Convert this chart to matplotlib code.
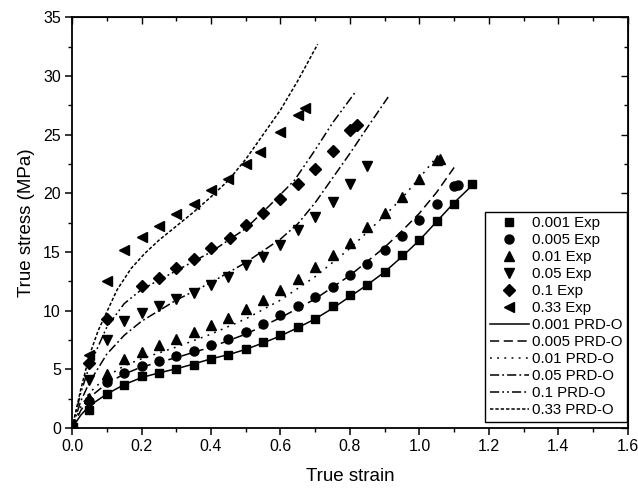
import matplotlib
matplotlib.use('Agg')
import matplotlib.pyplot as plt
from matplotlib.ticker import MultipleLocator

plt.rcParams['font.family'] = ['Liberation Sans', 'DejaVu Sans']

# experimental points (true strain, true stress in MPa)
eps_e001 = [0, 0.05, 0.1, 0.15, 0.2, 0.25, 0.3, 0.35, 0.4, 0.45, 0.5, 0.55, 0.6,
            0.65, 0.7, 0.75, 0.8, 0.85, 0.9, 0.95, 1.0, 1.05, 1.1, 1.15]
sig_e001 = [0, 1.5, 2.9, 3.7, 4.4, 4.7, 5.0, 5.4, 5.9, 6.2, 6.7, 7.3, 7.9,
            8.6, 9.3, 10.4, 11.3, 12.2, 13.3, 14.7, 16.0, 17.6, 19.1, 20.8]

eps_e005 = [0, 0.05, 0.1, 0.15, 0.2, 0.25, 0.3, 0.35, 0.4, 0.45, 0.5, 0.55, 0.6,
            0.65, 0.7, 0.75, 0.8, 0.85, 0.9, 0.95, 1.0, 1.05, 1.1, 1.11]
sig_e005 = [0, 2.3, 3.9, 4.7, 5.3, 5.7, 6.1, 6.6, 7.1, 7.6, 8.2, 8.9, 9.6,
            10.4, 11.2, 12.0, 13.0, 14.0, 15.2, 16.4, 17.7, 19.1, 20.6, 20.7]

eps_e01 = [0, 0.05, 0.1, 0.15, 0.2, 0.25, 0.3, 0.35, 0.4, 0.45, 0.5, 0.55, 0.6,
           0.65, 0.7, 0.75, 0.8, 0.85, 0.9, 0.95, 1.0, 1.05, 1.06]
sig_e01 = [0, 2.6, 4.6, 5.9, 6.5, 7.1, 7.6, 8.2, 8.8, 9.4, 10.1, 10.9, 11.8,
           12.7, 13.7, 14.7, 15.8, 17.1, 18.3, 19.7, 21.2, 22.8, 22.9]

eps_e05 = [0, 0.05, 0.1, 0.15, 0.2, 0.25, 0.3, 0.35, 0.4, 0.45, 0.5, 0.55, 0.6,
           0.65, 0.7, 0.75, 0.8, 0.85]
sig_e05 = [0, 4.1, 7.5, 9.1, 9.8, 10.4, 11.0, 11.5, 12.2, 12.9, 13.9, 14.6, 15.6,
           16.9, 18.0, 19.3, 20.8, 22.3]

eps_e1 = [0, 0.05, 0.1, 0.2, 0.25, 0.3, 0.35, 0.4, 0.455, 0.5, 0.55, 0.6,
          0.65, 0.7, 0.75, 0.8, 0.82]
sig_e1 = [0, 5.5, 9.3, 12.1, 12.8, 13.6, 14.4, 15.3, 16.2, 17.3, 18.3, 19.5,
          20.8, 22.1, 23.6, 25.4, 25.8]

eps_e33 = [0, 0.05, 0.1, 0.15, 0.2, 0.25, 0.3, 0.35, 0.4, 0.45, 0.5, 0.54,
           0.6, 0.65, 0.67]
sig_e33 = [0, 6.2, 12.5, 15.2, 16.3, 17.2, 18.2, 19.1, 20.3, 21.2, 22.5, 23.5,
           25.2, 26.7, 27.3]

# PRD-O model curves
eps_m001 = [0, 0.025, 0.05, 0.1, 0.15, 0.2, 0.25, 0.3, 0.35, 0.4, 0.45, 0.5, 0.55,
            0.6, 0.65, 0.7, 0.75, 0.8, 0.85, 0.9, 0.95, 1.0, 1.05, 1.1, 1.16]
sig_m001 = [0, 1.1, 1.9, 2.9, 3.7, 4.3, 4.7, 5.05, 5.45, 5.9, 6.25, 6.7, 7.25,
            7.85, 8.55, 9.3, 10.2, 11.2, 12.2, 13.3, 14.6, 16.0, 17.6, 19.2, 20.9]

eps_m005 = [0, 0.025, 0.05, 0.1, 0.15, 0.2, 0.3, 0.4, 0.5, 0.6, 0.7, 0.8, 0.9,
            0.95, 1.0, 1.05, 1.1]
sig_m005 = [0, 1.5, 2.6, 3.8, 4.6, 5.2, 6.0, 6.9, 8.0, 9.4, 11.0, 13.0, 15.4,
            16.8, 18.3, 20.1, 22.2]

eps_m01 = [0, 0.025, 0.05, 0.1, 0.15, 0.2, 0.3, 0.4, 0.5, 0.6, 0.7, 0.8, 0.9,
           0.95, 1.0, 1.05]
sig_m01 = [0, 1.8, 3.0, 4.4, 5.3, 5.9, 6.9, 8.0, 9.3, 10.9, 12.9, 15.3, 18.1,
           19.6, 21.3, 23.1]

eps_m05 = [0, 0.025, 0.05, 0.1, 0.15, 0.2, 0.3, 0.4, 0.5, 0.6, 0.65, 0.7, 0.75,
           0.8, 0.85, 0.91]
sig_m05 = [0, 2.3, 3.9, 6.3, 7.9, 9.1, 10.9, 12.4, 14.1, 16.1, 17.4, 19.2, 21.3,
           23.4, 25.6, 28.2]

eps_m1 = [0, 0.025, 0.05, 0.1, 0.15, 0.2, 0.25, 0.3, 0.4, 0.5, 0.57, 0.64, 0.7,
          0.75, 0.815]
sig_m1 = [0, 3.0, 5.3, 8.6, 10.6, 11.8, 12.6, 13.4, 15.0, 17.0, 19.0, 21.1, 23.7,
          26.0, 28.6]

eps_m33 = [0, 0.025, 0.05, 0.075, 0.1, 0.13, 0.17, 0.21, 0.25, 0.3, 0.35, 0.4,
           0.45, 0.5, 0.55, 0.6, 0.65, 0.707]
sig_m33 = [0, 3.3, 6.2, 8.3, 9.9, 11.8, 13.6, 14.9, 16.0, 17.2, 18.4, 19.7,
           21.1, 22.9, 25.0, 27.1, 29.6, 32.7]

fig = plt.figure(figsize=(6.38, 4.92), dpi=100)
ax = fig.add_axes([0.113, 0.13, 0.871, 0.835])

exp_sets = [
    (eps_e001, sig_e001, 's', 6.0, '0.001 Exp'),
    (eps_e005, sig_e005, 'o', 6.5, '0.005 Exp'),
    (eps_e01, sig_e01, '^', 7.0, '0.01 Exp'),
    (eps_e05, sig_e05, 'v', 7.0, '0.05 Exp'),
    (eps_e1, sig_e1, 'D', 6.0, '0.1 Exp'),
    (eps_e33, sig_e33, '<', 7.0, '0.33 Exp'),
]
model_sets = [
    (eps_m001, sig_m001, '-', '0.001 PRD-O'),
    (eps_m005, sig_m005, (0, (6, 3)), '0.005 PRD-O'),
    (eps_m01, sig_m01, (0, (1.2, 3.5)), '0.01 PRD-O'),
    (eps_m05, sig_m05, (0, (6, 2, 1.2, 2)), '0.05 PRD-O'),
    (eps_m1, sig_m1, (0, (6, 2, 1.2, 2, 1.2, 2)), '0.1 PRD-O'),
    (eps_m33, sig_m33, (0, (2.2, 1.3)), '0.33 PRD-O'),
]

handles = []
for x, y, m, ms, lab in exp_sets:
    h, = ax.plot(x, y, linestyle='none', marker=m, ms=ms, color='black',
                 label=lab, zorder=3)
    handles.append(h)
for x, y, ls, lab in model_sets:
    h, = ax.plot(x, y, linestyle=ls, color='black', lw=1.1, label=lab)
    handles.append(h)

ax.set_xlim(0, 1.6)
ax.set_ylim(0, 35)
ax.xaxis.set_major_locator(MultipleLocator(0.2))
ax.xaxis.set_minor_locator(MultipleLocator(0.1))
ax.yaxis.set_major_locator(MultipleLocator(5))
ax.yaxis.set_minor_locator(MultipleLocator(2.5))
ax.xaxis.set_major_formatter(plt.FuncFormatter(lambda v, p: '%.1f' % v))
ax.tick_params(which='major', direction='out', length=5, width=1.1,
               labelsize=11.5, pad=3)
ax.tick_params(which='minor', direction='out', length=3, width=1.0)
for s in ax.spines.values():
    s.set_linewidth(1.3)

# mirrored ticks on top and right, pointing inward
top = ax.secondary_xaxis('top')
top.xaxis.set_major_locator(MultipleLocator(0.2))
top.xaxis.set_minor_locator(MultipleLocator(0.1))
top.tick_params(which='both', direction='in', labeltop=False, width=1.0)
top.tick_params(which='major', length=5)
top.tick_params(which='minor', length=3)
right = ax.secondary_yaxis('right')
right.yaxis.set_major_locator(MultipleLocator(5))
right.yaxis.set_minor_locator(MultipleLocator(2.5))
right.tick_params(which='both', direction='in', labelright=False, width=1.0)
right.tick_params(which='major', length=5)
right.tick_params(which='minor', length=3)

ax.set_xlabel('True strain', fontsize=13.5, labelpad=10)
ax.set_ylabel('True stress (MPa)', fontsize=13.5, labelpad=6)

leg = ax.legend(handles=handles, loc='lower right', bbox_to_anchor=(0.998, 0.015),
                fontsize=10.8, frameon=True, fancybox=False, edgecolor='black',
                framealpha=1, handlelength=2.6, handletextpad=0.2,
                labelspacing=0.2, borderpad=0.3, borderaxespad=0)
leg.get_frame().set_linewidth(1.0)

fig.savefig('out.png', dpi=100)
